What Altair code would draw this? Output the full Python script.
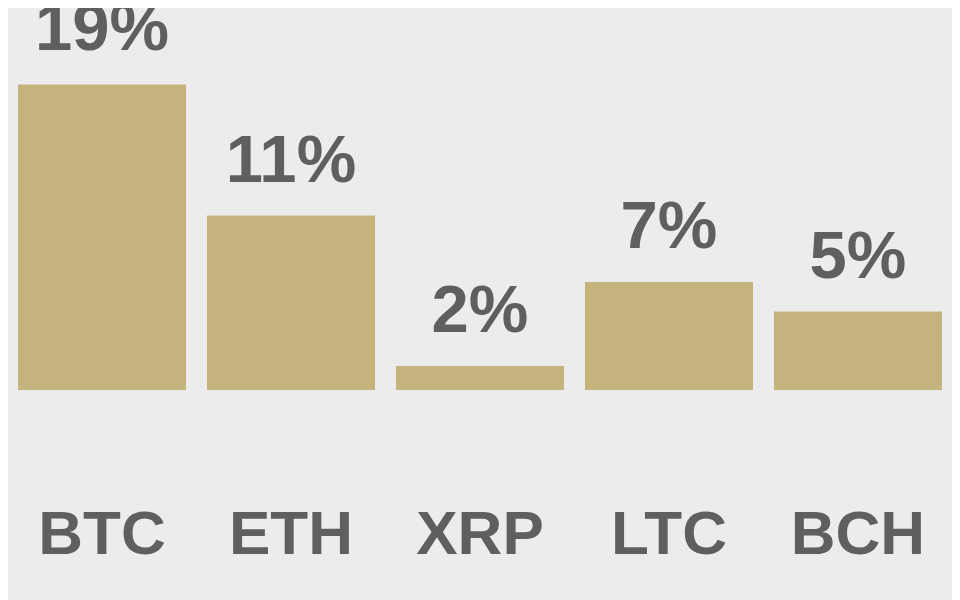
import altair as alt
import pandas as pd

coins = ["BTC", "ETH", "XRP", "LTC", "BCH"]
shares = [19.1, 10.9, 1.5, 6.75, 4.9]
labels = ["19%", "11%", "2%", "7%", "5%"]

df = pd.DataFrame({"coin": coins, "share": shares, "label": labels})

x = alt.X("coin:N", sort=coins,
          scale=alt.Scale(paddingInner=0.111, paddingOuter=0.053),
          axis=alt.Axis(title=None, ticks=False, domain=False, labelAngle=0,
                        labelFont="Liberation Sans", labelFontWeight="bold",
                        labelFontSize=62, labelColor="#5f5f5f",
                        labelBaseline="alphabetic", labelPadding=163))
y = alt.Y("share:Q", scale=alt.Scale(domain=[0, 382 / 16], nice=False, zero=True),
          axis=None)

bars = alt.Chart(df).mark_bar(color="#c5b37e").encode(x=x, y=y)
text = alt.Chart(df).mark_text(
    font="Liberation Sans", fontWeight="bold",
    fontSize=67, color="#5f5f5f", baseline="alphabetic", dy=-34
).encode(x=x, y=y, text="label:N")

chart = (bars + text).properties(
    width=944, height=382,
    autosize=alt.AutoSizeParams(type="none"),
    padding={"left": 0, "top": 0, "right": 0, "bottom": 210},
    background="#ececec",
).configure_view(stroke=None)

chart.save("out.html", embed_options={"renderer": "svg", "actions": False})
